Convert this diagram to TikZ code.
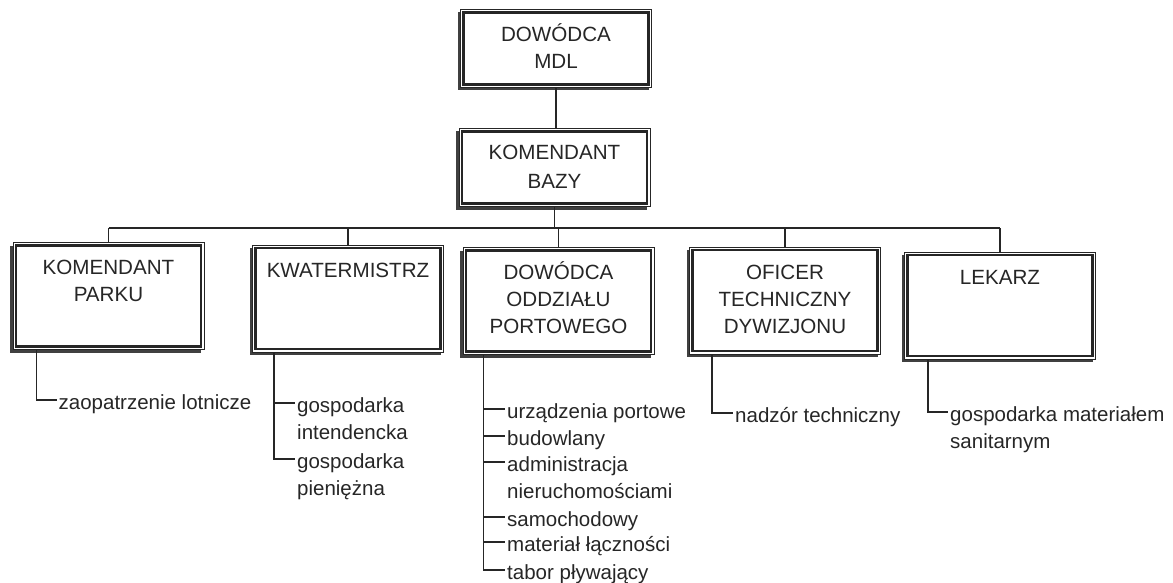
\documentclass[tikz,border=0pt]{standalone}
\usepackage{fontspec}
\setmainfont{Liberation Sans}
\usetikzlibrary{shadows,calc}
\newcommand\fl{\rule{0pt}{20pt}}
\begin{document}
\begin{tikzpicture}[x=1pt,y=-1pt,
  box/.style={rectangle, draw=black!85, line width=0.9pt, fill=white, inner sep=0,
    minimum width=191pt,
    drop shadow={shadow xshift=-3pt, shadow yshift=-3pt, opacity=1, fill=black!75}},
  topbox/.style={box, minimum height=78pt},
  lowbox/.style={box, minimum height=107pt},
  innerline/.style={draw=black!85, line width=2.4pt},
  conn/.style={draw=black!85, line width=1.2pt},
  btext/.style={anchor=north, inner sep=0, align=center, text=black!85,
    font=\fontsize{20.6}{27}\selectfont},
  itext/.style={anchor=north west, inner sep=0, align=left, text=black!85,
    font=\fontsize{20.5}{26.7}\selectfont},
]
\useasboundingbox (0,0) rectangle (1173,583);

% boxes
\node[topbox] (mdl)   at (556,48.5)   {};
\node[topbox] (baz)   at (554.5,167.5) {};
\node[lowbox] (parku) at (108.5,296)  {};
\node[lowbox] (kwat)  at (348,298.5)  {};
\node[lowbox] (odd)   at (558.5,301)  {};
\node[lowbox] (ofi)   at (785,300.5)  {};
\node[lowbox] (lek)   at (1000,305.5) {};
\foreach \n in {mdl,baz,parku,kwat,odd,ofi,lek}
  \draw[innerline] ([shift={(3.6pt,-3.6pt)}]\n.north west) rectangle ([shift={(-3.6pt,3.6pt)}]\n.south east);

% box texts
\node[btext] (mdlT) at ([yshift=-12.2pt]mdl.north) {\fl DOWÓDCA\\MDL};
\node[btext, font=\fontsize{20.6}{29}\selectfont] (bazT) at ([yshift=-11.5pt]baz.north) {\fl KOMENDANT\\BAZY};
\node[btext] (parkuT) at ([yshift=-12.4pt]parku.north) {\fl KOMENDANT\\PARKU};
\node[btext] (kwatT)  at ([yshift=-12.4pt]kwat.north)  {\fl KWATERMISTRZ};
\node[btext] (oddT)   at ([yshift=-12.4pt]odd.north)   {\fl DOWÓDCA\\ODDZIAŁU\\PORTOWEGO};
\node[btext] (ofiT)   at ([yshift=-12.4pt]ofi.north)   {\fl OFICER\\TECHNICZNY\\DYWIZJONU};
\node[btext] (lekT)   at ([yshift=-12.4pt]lek.north)   {\fl LEKARZ};

% hierarchy connectors
\coordinate (bus) at (0,228);
\draw[conn] (mdl.south) -- (mdl.south |- baz.north);
\draw[conn] (baz.south) -- (baz.south |- bus);
\draw[conn] (parku.north |- bus) -- (lek.north |- bus);
\foreach \n in {parku,kwat,odd,ofi,lek}
  \draw[conn] (\n.north |- bus) -- (\n.north);

% KOMENDANT PARKU list
\coordinate (paS) at ($(parku.south west)+(24,0)$);
\coordinate (pa1) at (57,400);
\draw[conn] (paS) |- (pa1);
\node[itext] (paT1) at ([shift={(1.5,-10.5)}]pa1) {\fl zaopatrzenie lotnicze};

% KWATERMISTRZ list
\coordinate (kwS) at ($(kwat.south west)+(22,0)$);
\coordinate (kw1) at (295,403);
\coordinate (kw2) at (295,459);
\draw[conn] (kwS) |- (kw2);
\draw[conn] (kwS |- kw1) -- (kw1);
\node[itext] (kwT1) at ([shift={(2,-10.5)}]kw1) {\fl gospodarka\\intendencka};
\node[itext] (kwT2) at ([shift={(2,-10.5)}]kw2) {\fl gospodarka\\pieniężna};

% DOWODCA ODDZIALU PORTOWEGO list
\coordinate (odS) at ($(odd.south west)+(21,0)$);
\coordinate (od1) at (505,409);
\coordinate (od2) at (505,436);
\coordinate (od3) at (505,462);
\coordinate (od4) at (505,517);
\coordinate (od5) at (505,542);
\coordinate (od6) at (505,570);
\draw[conn] (odS) |- (od6);
\foreach \c in {od1,od2,od3,od4,od5}
  \draw[conn] (odS |- \c) -- (\c);
\node[itext] (odT1) at ([shift={(2,-10.5)}]od1) {\fl urządzenia portowe};
\node[itext] (odT2) at ([shift={(2,-10.5)}]od2) {\fl budowlany};
\node[itext] (odT3) at ([shift={(2,-10.5)}]od3) {\fl administracja\\nieruchomościami};
\node[itext] (odT4) at ([shift={(2,-10.5)}]od4) {\fl samochodowy};
\node[itext] (odT5) at ([shift={(2,-10.5)}]od5) {\fl materiał łączności};
\node[itext] (odT6) at ([shift={(2,-10.5)}]od6) {\fl tabor pływający};

% OFICER list
\coordinate (ofS) at ($(ofi.south west)+(23,0)$);
\coordinate (of1) at (733,413);
\draw[conn] (ofS) |- (of1);
\node[itext] (ofT1) at ([shift={(2,-10.5)}]of1) {\fl nadzór techniczny};

% LEKARZ list
\coordinate (leS) at ($(lek.south west)+(24,0)$);
\coordinate (le1) at (948,412);
\draw[conn] (leS) |- (le1);
\node[itext] (leT1) at ([shift={(2,-10.5)}]le1) {\fl gospodarka materiałem\\sanitarnym};
\end{tikzpicture}
\end{document}
